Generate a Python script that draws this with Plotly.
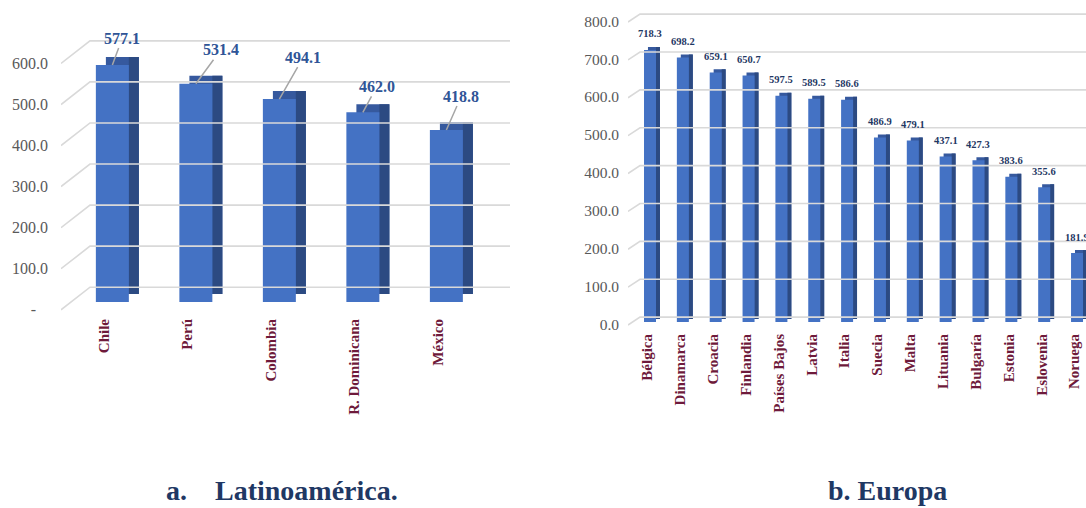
import plotly.graph_objects as go

# ---------------- data ----------------
lat_countries = ["Chile", "Perú", "Colombia", "R. Dominicana", "México"]
lat_values = [577.1, 531.4, 494.1, 462.0, 418.8]
lat_ticks = [0, 100, 200, 300, 400, 500, 600]
lat_ticktext = ["-\u00a0\u00a0\u00a0", "100.0", "200.0", "300.0", "400.0", "500.0", "600.0"]

eu_countries = ["Bélgica", "Dinamarca", "Croacia", "Finlandia", "Países Bajos", "Latvia",
                "Italia", "Suecia", "Malta", "Lituania", "Bulgaría", "Estonia",
                "Eslovenia", "Noruega"]
eu_values = [718.3, 698.2, 659.1, 650.7, 597.5, 589.5, 586.6, 486.9, 479.1, 437.1,
             427.3, 383.6, 355.6, 181.9]
eu_ticks = [0, 100, 200, 300, 400, 500, 600, 700, 800]
eu_ticktext = ["0.0", "100.0", "200.0", "300.0", "400.0", "500.0", "600.0", "700.0", "800.0"]

# ---------------- styles ----------------
FONT = "Liberation Serif"
FRONT = "#4472c4"
SIDE = "#2c4a82"
TOP = "#36599e"
GRID = "#d9d9d9"
MAROON = "#6e1a3b"
LBL_BLUE = "#2f5597"
NAVY = "#1f3864"

fig = go.Figure()


def panel(xa, ya, names, vals, ticks, xr, bar_w, bar_c, side_dx, top_dy,
          diag_dx, front_dv, back_dv):
    xs = list(range(len(names)))
    # pseudo-3D grid
    gx, gy = [], []
    for v in ticks:
        gx += [xr[0], xr[0] + diag_dx, xr[1], None]
        gy += [v + front_dv, v + back_dv, v + back_dv, None]
    fig.add_trace(go.Scatter(x=gx, y=gy, mode="lines", line=dict(color=GRID, width=1.6),
                             hoverinfo="skip", showlegend=False, xaxis=xa, yaxis=ya,
                             cliponaxis=False))
    off = bar_c - bar_w / 2
    # top face
    fig.add_trace(go.Bar(x=xs, y=vals, base=top_dy, width=bar_w, offset=off + side_dx,
                         marker=dict(color=TOP, line=dict(width=0)), showlegend=False,
                         hoverinfo="skip", xaxis=xa, yaxis=ya))
    # side face
    fig.add_trace(go.Bar(x=xs, y=vals, base=top_dy, width=side_dx, offset=off + bar_w,
                         marker=dict(color=SIDE, line=dict(width=0)), showlegend=False,
                         hoverinfo="skip", xaxis=xa, yaxis=ya))
    # front face
    fig.add_trace(go.Bar(x=xs, y=vals, width=bar_w, offset=off,
                         marker=dict(color=FRONT, line=dict(width=0)), showlegend=False,
                         xaxis=xa, yaxis=ya))


# left panel geometry
L_XR = [-0.515, 4.862]
L_YR = [-31.7, 686.8]
panel("x", "y", lat_countries, lat_values, lat_ticks, L_XR,
      bar_w=0.395, bar_c=0.10, side_dx=0.12, top_dy=19.5,
      diag_dx=0.347, front_dv=-19, back_dv=36)

# right panel geometry
R_XR = [-0.594, 13.349]
R_YR = [-21.1, 837]
panel("x2", "y2", eu_countries, eu_values, eu_ticks, R_XR,
      bar_w=0.365, bar_c=0.076, side_dx=0.12, top_dy=8,
      diag_dx=0.365, front_dv=-8, back_dv=13)

annotations = []
# left data labels with leader lines
lat_label_offsets = [(10, -27), (25, -34), (24, -42), (14, -26), (15, -34)]
for i, (v, (ax, ay)) in enumerate(zip(lat_values, lat_label_offsets)):
    annotations.append(dict(x=i + 0.10, y=v, xref="x", yref="y", text=f"{v:.1f}",
                            showarrow=True, arrowhead=0, arrowwidth=1.5, arrowcolor="#a6a6a6",
                            ax=ax, ay=ay, standoff=0,
                            font=dict(family=FONT, size=16, color=LBL_BLUE, weight="bold")))
# right data labels
for i, v in enumerate(eu_values):
    annotations.append(dict(x=i + 0.076, y=v, xref="x2", yref="y2", text=f"{v:.1f}",
                            showarrow=False, yshift=16,
                            font=dict(family=FONT, size=10.5, color=NAVY, weight="bold")))
# panel captions
annotations.append(dict(x=281.5 / 1086, y=1 - 490 / 508, xref="paper", yref="paper",
                        xanchor="center", yanchor="middle",
                        text="a.\u00a0\u00a0\u00a0\u00a0Latinoamérica.", showarrow=False,
                        font=dict(family=FONT, size=28, color=NAVY, weight="bold")))
annotations.append(dict(x=887 / 1086, y=1 - 490 / 508, xref="paper", yref="paper",
                        xanchor="center", yanchor="middle",
                        text="b. Europa", showarrow=False,
                        font=dict(family=FONT, size=28, color=NAVY, weight="bold")))

tickfont_y = dict(family=FONT, size=16, color="#595959")
tickfont_x = dict(family=FONT, size=15, color=MAROON, weight="bold")

fig.update_layout(
    width=1086, height=508,
    margin=dict(l=0, r=0, t=0, b=0, autoexpand=False),
    paper_bgcolor="white", plot_bgcolor="white",
    barmode="overlay",
    showlegend=False,
    font=dict(family=FONT),
    annotations=annotations,
    xaxis=dict(domain=[61 / 1086, 510 / 1086], range=L_XR, tickmode="array",
               tickvals=list(range(len(lat_countries))), ticktext=lat_countries,
               tickangle=-90, tickfont=tickfont_x, showgrid=False, zeroline=False,
               showline=False, ticks="", fixedrange=True, automargin=False),
    yaxis=dict(domain=[1 - 315 / 508, 1 - 20 / 508], range=L_YR, tickmode="array",
               tickvals=[t - 19 for t in lat_ticks], ticktext=lat_ticktext,
               tickfont=tickfont_y, showgrid=False, zeroline=False, showline=False,
               ticks="", ticklabelstandoff=12, fixedrange=True, automargin=False),
    xaxis2=dict(domain=[628 / 1086, 1.0], range=R_XR, anchor="y2", tickmode="array",
                tickvals=list(range(len(eu_countries))), ticktext=eu_countries,
                tickangle=-90, tickfont=tickfont_x, showgrid=False, zeroline=False,
                showline=False, ticks="", fixedrange=True, automargin=False),
    yaxis2=dict(domain=[1 - 330 / 508, 1 - 5 / 508], range=R_YR, anchor="x2",
                tickmode="array", tickvals=[t - 6 for t in eu_ticks], ticktext=eu_ticktext,
                tickfont=dict(family=FONT, size=15.5, color="#595959"), showgrid=False,
                zeroline=False, showline=False, ticks="", ticklabelstandoff=8,
                fixedrange=True, automargin=False),
)

fig.write_html("out.html", config={"displayModeBar": False},
               post_script="document.body.style.margin='0';document.body.style.overflow='hidden';")
